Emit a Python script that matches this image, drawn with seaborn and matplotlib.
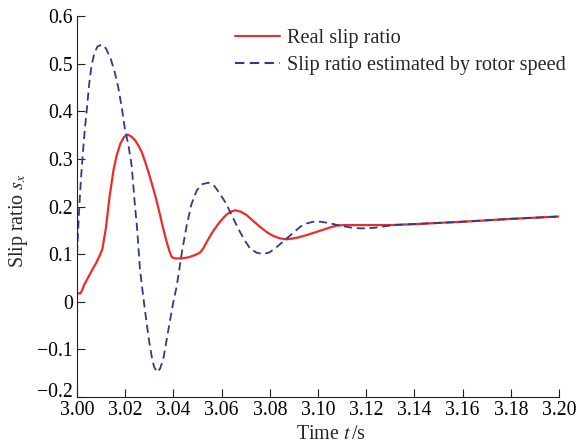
import matplotlib
matplotlib.use("Agg")
import matplotlib.pyplot as plt
import seaborn as sns
import pandas as pd
from matplotlib.ticker import FixedLocator, FixedFormatter

# ---- data ----
real_t = [3.000, 3.0015, 3.0022, 3.003, 3.004, 3.006, 3.008, 3.0095, 3.0105, 3.012,
          3.0135, 3.0151, 3.0165, 3.018, 3.0195, 3.021, 3.0225, 3.0241, 3.0255, 3.0268,
          3.0282, 3.0296, 3.031, 3.0324, 3.0338, 3.0351, 3.0362, 3.0372, 3.0383, 3.0393,
          3.0405, 3.0434, 3.046, 3.049, 3.051, 3.0524, 3.054, 3.0563, 3.059, 3.0618,
          3.0638, 3.0656, 3.068, 3.0704, 3.073, 3.076, 3.0788, 3.0815, 3.0843, 3.087,
          3.091, 3.0953, 3.099, 3.102, 3.105, 3.1077, 3.111, 3.12, 3.13, 3.14,
          3.16, 3.18, 3.20]
real_s = [0.017, 0.018, 0.025, 0.036, 0.045, 0.064, 0.082, 0.098, 0.110, 0.155,
          0.220, 0.275, 0.308, 0.332, 0.346, 0.351, 0.347, 0.339, 0.328, 0.315,
          0.295, 0.273, 0.249, 0.224, 0.196, 0.168, 0.145, 0.126, 0.107, 0.094,
          0.091, 0.091, 0.093, 0.098, 0.103, 0.112, 0.127, 0.147, 0.166, 0.182,
          0.189, 0.192, 0.189, 0.182, 0.170, 0.157, 0.146, 0.138, 0.133, 0.131,
          0.134, 0.140, 0.146, 0.151, 0.156, 0.160, 0.161, 0.161, 0.161, 0.163,
          0.168, 0.174, 0.179]

est_t = [3.0000, 3.0008, 3.0016, 3.0024, 3.0032, 3.0040, 3.0050, 3.0060, 3.0072, 3.0085,
         3.0103, 3.0120, 3.0140, 3.0155, 3.0171, 3.0185, 3.0199, 3.0213, 3.0227, 3.0240,
         3.0250, 3.0261, 3.0275, 3.0289, 3.0300, 3.0310, 3.0320, 3.0333, 3.0345, 3.0358,
         3.0372, 3.0386, 3.0400, 3.0414, 3.0434, 3.0455, 3.0475, 3.0497, 3.0520, 3.0545,
         3.0570, 3.0593, 3.0620, 3.0635, 3.0655, 3.0676, 3.0697, 3.0718, 3.0745, 3.0773,
         3.0800, 3.0829, 3.0850, 3.0870, 3.0900, 3.0925, 3.0950, 3.0980, 3.1010, 3.1036,
         3.1065, 3.1090, 3.1145, 3.1180, 3.1230, 3.1310, 3.1400, 3.1600, 3.1800, 3.2000]
est_s = [0.100, 0.185, 0.255, 0.310, 0.360, 0.400, 0.455, 0.495, 0.522, 0.536,
         0.540, 0.532, 0.510, 0.485, 0.451, 0.410, 0.362, 0.330, 0.285, 0.205,
         0.150, 0.070, 0.010, -0.045, -0.085, -0.115, -0.137, -0.148, -0.140, -0.120,
         -0.080, -0.039, 0.000, 0.033, 0.100, 0.160, 0.205, 0.234, 0.247, 0.250,
         0.243, 0.227, 0.205, 0.189, 0.168, 0.147, 0.128, 0.112, 0.103, 0.100,
         0.104, 0.115, 0.124, 0.133, 0.146, 0.157, 0.164, 0.168, 0.168, 0.166,
         0.163, 0.160, 0.155, 0.154, 0.155, 0.161, 0.163, 0.168, 0.174, 0.179]

series_names = ["Real slip ratio", "Slip ratio estimated by rotor speed"]
x_ticks = [3.00, 3.02, 3.04, 3.06, 3.08, 3.10, 3.12, 3.14, 3.16, 3.18, 3.20]
x_tick_labels = ["3.00", "3.02", "3.04", "3.06", "3.08", "3.10", "3.12", "3.14", "3.16", "3.18", "3.20"]
y_ticks = [-0.2, -0.1, 0.0, 0.1, 0.2, 0.3, 0.4, 0.5, 0.6]
y_tick_labels = ["\u22120.2", "\u22120.1", "0", "0.1", "0.2", "0.3", "0.4", "0.5", "0.6"]

df = pd.concat([
    pd.DataFrame({"t": real_t, "s": real_s, "series": series_names[0]}),
    pd.DataFrame({"t": est_t, "s": est_s, "series": series_names[1]}),
], ignore_index=True)

sns.set_theme(style="ticks")
plt.rcParams["font.family"] = ["Liberation Serif", "DejaVu Serif"]
plt.rcParams["mathtext.fontset"] = "stix"

fig = plt.figure(figsize=(5.77, 4.45), dpi=100)
ax = fig.add_axes([77 / 577, 1 - 397 / 445, (559 - 77) / 577, (397 - 16) / 445])

palette = {series_names[0]: "#ee2b2b", series_names[1]: "#2e3a8c"}
dashes = {series_names[0]: "", series_names[1]: (4.5, 2.6)}
sns.lineplot(data=df, x="t", y="s", hue="series", style="series",
             palette=palette, dashes=dashes, estimator=None, sort=False,
             ax=ax, legend=True)
lines = ax.get_lines()
lines[0].set_linewidth(1.6)
lines[1].set_linewidth(1.3)

ax.set_xlim(3.0, 3.2)
ax.set_ylim(-0.2, 0.6)
ax.xaxis.set_major_locator(FixedLocator(x_ticks))
ax.xaxis.set_major_formatter(FixedFormatter(x_tick_labels))
ax.yaxis.set_major_locator(FixedLocator(y_ticks))
ax.yaxis.set_major_formatter(FixedFormatter(y_tick_labels))
ax.tick_params(direction="in", length=6, width=0.8, labelsize=14.2, pad=3,
               colors="#222222", labelcolor="black")

for side in ["top", "right"]:
    ax.spines[side].set_visible(False)
for side in ["left", "bottom"]:
    ax.spines[side].set_linewidth(0.8)
    ax.spines[side].set_color("#222222")

ax.set_xlabel(r"Time $t\,$/s", fontsize=14.4)
ax.set_ylabel(r"Slip ratio $s_x$", fontsize=14.4)
ax.xaxis.set_label_coords((331 - 77) / 482, (397 - 425) / 381)
ax.yaxis.set_label_coords((30 - 77) / 482, (397 - 221) / 381)

# lowest y tick label sits slightly above its tick, as in the reference
fig.canvas.draw()
ax.get_yticklabels()[0].set_verticalalignment("baseline")

handles, labels = ax.get_legend_handles_labels()
leg = ax.legend(handles, labels, loc="upper left",
                bbox_to_anchor=(235 / 577, 1 - 29 / 445), bbox_transform=fig.transFigure,
                frameon=False, fontsize=14.6, handlelength=2.2, handletextpad=0.35,
                labelspacing=0.36, borderpad=0, borderaxespad=0)

fig.savefig("out.png", dpi=100)
